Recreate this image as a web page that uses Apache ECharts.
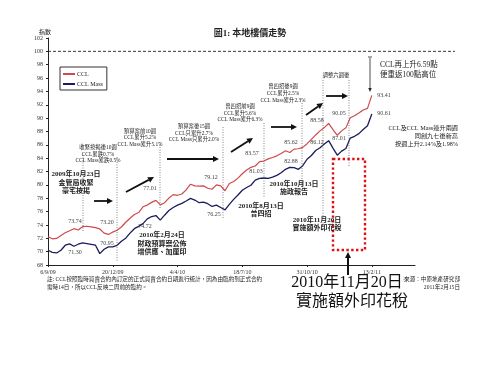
<!DOCTYPE html>
<html><head><meta charset="utf-8">
<script src="https://cdn.jsdelivr.net/npm/echarts@6/dist/echarts.min.js"></script>
<style>html,body{margin:0;padding:0;background:#fff}#c{width:500px;height:375px}</style>
</head><body><div id="c"></div>
<script>
// ---- data ----
const startDate = [2009, 9, 6];        // first weekly observation
const totalWeeks = 86;                 // axis length in weeks
const tickLabels = ['6/9/09','20/12/09','4/4/10','18/7/10','31/10/10','13/2/11'];
const seriesNames = ['CCL', 'CCL Mass'];
const ccl = [
 72.23,71.92,71.98,72.43,72.83,73.14,73.44,73.24,73.74,73.80,
 73.70,73.60,73.40,72.78,72.58,72.93,73.20,73.69,74.40,75.00,
 75.56,75.86,76.72,76.97,77.38,77.68,77.01,77.33,78.03,78.54,
 78.44,78.64,79.25,80.10,79.85,79.80,79.85,79.50,79.35,80.00,
 79.85,79.12,80.20,80.51,81.01,81.67,82.23,82.63,82.83,83.49,
 83.57,83.89,84.10,84.35,84.70,85.11,84.85,85.36,85.41,85.62,
 86.17,86.82,87.48,88.09,88.58,89.20,88.29,87.43,88.09,88.54,
 90.05,90.36,90.76,91.22,91.45,93.41];
const cclMass = [
 70.21,69.90,69.80,70.21,70.96,71.17,70.81,71.11,71.30,71.20,
 71.10,70.96,69.70,70.36,70.71,70.71,70.95,71.57,72.02,72.78,
 73.44,73.79,74.20,74.90,75.26,75.41,74.72,75.46,76.17,76.62,
 76.97,77.23,77.58,77.98,77.73,77.33,77.43,77.18,76.77,76.97,
 76.62,76.25,77.08,77.83,78.49,79.20,79.60,79.95,80.71,80.96,
 81.03,80.96,81.17,81.42,81.82,82.33,82.63,82.58,82.33,82.88,
 83.84,84.40,85.15,85.56,86.12,86.62,85.51,84.45,85.06,85.46,
 87.01,87.28,87.68,88.29,88.85,90.61];
const yMin = 68, yMax = 102, yStep = 2;
const labelEvery = 15;

// ---- build categories ----
const cats = [];
for (let i = 0; i < totalWeeks; i++) {
  const d = new Date(Date.UTC(startDate[0], startDate[1]-1, startDate[2] + 7*i));
  cats.push(d.getUTCDate() + '/' + (d.getUTCMonth()+1) + '/' + String(d.getUTCFullYear()).slice(2));
}

const SERIF = '"Liberation Serif","Noto Sans CJK TC",serif';
const RED = '#cf4a4a', NAVY = '#1c1c5c';

const chart = echarts.init(document.getElementById('c'));
const option = {
  backgroundColor: '#fff',
  animation: false,
  grid: {left: 48, right: 85, top: 38, bottom: 110},
  legend: {
    data: seriesNames, orient: 'vertical', left: 60, top: 67,
    icon: 'rect', itemWidth: 12, itemHeight: 2, itemGap: 4,
    padding: [4, 4, 3, 3], borderColor: '#333', borderWidth: 1, backgroundColor: '#fff',
    textStyle: {fontSize: 6, fontFamily: SERIF, color: '#222', padding: [0,0,0,-3]}
  },
  xAxis: {
    type: 'category', data: cats, boundaryGap: false,
    axisLine: {lineStyle: {color: '#222', width: 1}},
    axisTick: {show: true, length: 2, interval: (i) => i % labelEvery === 0, lineStyle: {color: '#222'}},
    axisLabel: {interval: 0, hideOverlap: false, fontSize: 6, fontFamily: SERIF, color: '#333', margin: 4,
      formatter: (v, i) => (i % labelEvery === 0 && tickLabels.indexOf(v) >= 0) ? v : ''}
  },
  yAxis: {
    type: 'value', min: yMin, max: yMax, interval: yStep,
    axisLine: {show: true, lineStyle: {color: '#222', width: 1}},
    axisTick: {show: true, length: 2, lineStyle: {color: '#222'}},
    splitLine: {show: false},
    axisLabel: {fontSize: 6, fontFamily: SERIF, color: '#333', margin: 5}
  },
  series: [
    {name: seriesNames[0], type: 'line', data: ccl, showSymbol: false, lineStyle: {color: RED, width: 1.2}, itemStyle: {color: RED}, z: 3},
    {name: seriesNames[1], type: 'line', data: cclMass, showSymbol: false, lineStyle: {color: NAVY, width: 1.3}, itemStyle: {color: NAVY}, z: 3}
  ]
};
chart.setOption(option);

// ---- annotations ----
function txt(text, x, y, size, opts) {
  opts = opts || {};
  return {type: 'text', z: 20, style: Object.assign({text, x, y, fontSize: size, fontFamily: SERIF,
    fill: opts.fill || '#222', fontWeight: opts.bold ? 'bold' : 'normal',
    align: opts.align || 'center', verticalAlign: 'middle'}, opts.extra || {})};
}
function vdot(x, y1, y2) {
  return {type: 'line', z: 10, shape: {x1: x, y1, x2: x, y2}, style: {stroke: '#666', lineWidth: 0.8, lineDash: [1, 1.5]}};
}
function arrow(x1, y1, x2, y2, lw, hl, hw, color) {
  const dx = x2-x1, dy = y2-y1, L = Math.hypot(dx, dy), ux = dx/L, uy = dy/L;
  const bx = x2-ux*hl, by = y2-uy*hl, px = -uy, py = ux;
  return [
    {type: 'line', z: 15, shape: {x1, y1, x2: bx, y2: by}, style: {stroke: color, lineWidth: lw}},
    {type: 'polygon', z: 15, shape: {points: [[x2, y2], [bx+px*hw/2, by+py*hw/2], [bx-px*hw/2, by-py*hw/2]]}, style: {fill: color}}
  ];
}

const y100 = chart.convertToPixel({yAxisIndex: 0}, 100);
const g = [];
g.push({type: 'line', z: 5, shape: {x1: 48, y1: y100, x2: 455, y2: y100}, style: {stroke: '#222', lineWidth: 0.9, lineDash: [3, 2]}});
g.push(txt('圖1: 本地樓價走勢', 250, 34, 9, {bold: true}));
g.push(txt('指數', 45, 32, 6));
[[83,155,232],[117,157,262],[160,142,208],[223,127,219],[264,123,198],[302,103,187],[323,80,227],[349,80,167]]
  .forEach(v => g.push(vdot(v[0], v[1], v[2])));
const AB = '#111';
[[94,201,113,201],[126,192,154,177],[167,159,219,159],[231,152,253,138],[271,127,297,127],[306,115,323,103],[326,96,348,96]]
  .forEach(a => g.push(...arrow(a[0], a[1], a[2], a[3], 1.8, 6, 6, AB)));
g.push(...arrow(348, 277, 348, 252, 2, 6, 6, AB));
g.push(...arrow(370, 58, 370, 92, 0.8, 4, 3.5, '#222'));
g.push({type: 'line', z: 15, shape: {x1: 368, y1: 57, x2: 372, y2: 57}, style: {stroke: '#222', lineWidth: 0.8}});
g.push({type: 'rect', z: 12, shape: {x: 333, y: 159, width: 32, height: 91},
  style: {fill: 'none', stroke: '#dd1111', lineWidth: 2.4, lineDash: [2.4, 2.4]}});
const VL = '#444';
[['73.74',75,221],['73.20',107,222],['71.30',75,252],['70.95',107,243],['77.01',150,188],['74.72',145,226],
 ['79.12',211,177],['76.25',214,214],['83.57',252,153],['81.03',256,171],['85.62',291,142],['82.88',291,161],
 ['88.58',317,120],['86.12',317,142],['90.05',339,113],['87.01',339,138],['93.41',384,95],['90.61',384,113]]
  .forEach(l => g.push(txt(l[0], l[1], l[2], 6, {fill: VL})));
const SB = 5.4;
[[['收緊按揭後10週','CCL累跌0.7%','CCL Mass累跌0.5%'], 98, [148,154.5,161]],
 [['預算案前10週','CCL累升5.2%','CCL Mass累升5.1%'], 140, [131.5,138,144.5]],
 [['預算案後15週','CCL只累升2.7%','CCL Mass只累升2.0%'], 194, [127,133.5,140]],
 [['曾四招前9週','CCL累升5.6%','CCL Mass累升6.3%'], 240, [107,113.5,120]],
 [['曾四招後9週','CCL累升2.5%','CCL Mass累升2.3%'], 283, [87,94,101]]]
  .forEach(b => b[0].forEach((t, i) => g.push(txt(t, b[1], b[2][i], SB))));
g.push(txt('調整六週後', 336, 76, SB));
const EB = 7;
[[['2009年10月23日','金管局收緊','豪宅按揭'], 76, [174.5,183,191]],
 [['2010年2月24日','財政預算案公佈','增供應、加厘印'], 162, [235.5,244,252.5]],
 [['2010年8月13日','曾四招'], 261, [206,214]],
 [['2010年10月13日','施政報告'], 294, [184.5,192.5]],
 [['2010年11月20日','實施額外印花稅'], 317, [220,228.5]]]
  .forEach(b => b[0].forEach((t, i) => g.push(txt(t, b[1], b[2][i], EB, {bold: true}))));
g.push(txt('CCL再上升6.59點', 380, 65, 7.5, {align: 'left'}));
g.push(txt('便重返100點高位', 380, 75, 7.5, {align: 'left'}));
g.push(txt('CCL及CCL Mass連升兩週', 458, 128, 6.2, {align: 'right'}));
g.push(txt('同創九七後新高', 458, 136, 6.2, {align: 'right'}));
g.push(txt('按週上升2.14%及1.98%', 458, 144, 6.2, {align: 'right'}));
g.push(txt('註: CCL按照臨時買賣合約內訂定的正式買賣合約日期進行統計，因為由臨約到正式合約', 47, 280, 5.6, {align: 'left'}));
g.push(txt('需時14日，所以CCL反映二周前的臨約。', 47, 288, 5.6, {align: 'left'}));
g.push(txt('資料來源：中原地產研究部', 460, 280, 5.6, {align: 'right'}));
g.push(txt('2011年2月15日', 460, 288, 5.6, {align: 'right'}));
g.push(txt('2010年11月20日', 347, 283, 16, {fill: '#111', extra: {backgroundColor: '#fff', padding: [0, 1]}}));
g.push(txt('實施額外印花稅', 352, 302, 16, {fill: '#111', extra: {backgroundColor: '#fff'}}));

chart.setOption({graphic: {elements: g}});
</script></body></html>
